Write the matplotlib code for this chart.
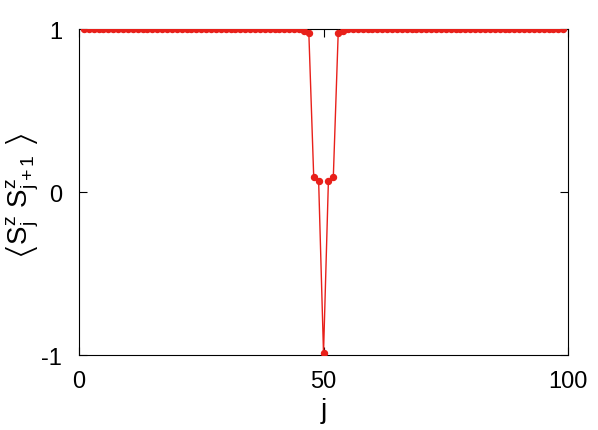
import numpy as np
import matplotlib.pyplot as plt

plt.rcParams['font.family'] = ['Liberation Sans', 'DejaVu Sans']
plt.rcParams['mathtext.fontset'] = 'custom'
plt.rcParams['mathtext.rm'] = 'Liberation Sans'
plt.rcParams['mathtext.it'] = 'Liberation Sans'
plt.rcParams['mathtext.fallback'] = 'stixsans'

# bond index and nearest-neighbour correlation
j = np.arange(1, 100)
corr = np.ones(len(j))
dip_j = [45, 46, 47, 48, 49, 50, 51, 52, 53, 54, 55]
dip_val = [0.998, 0.99, 0.975, 0.09, 0.07, -0.99, 0.07, 0.09, 0.975, 0.99, 0.998]
for jj, v in zip(dip_j, dip_val):
    corr[jj - 1] = v

fig = plt.figure(figsize=(5.98, 4.31), dpi=100)
ax = fig.add_axes([0.132, 0.174, 0.818, 0.756])

ax.plot(j, corr, '-o', color='#e8201a', lw=1, ms=4.3, zorder=3)

ax.set_xlim(0, 100)
ax.set_ylim(-1, 1)
ax.set_xticks([0, 50, 100])
ax.set_yticks([-1, 0, 1])
ax.set_yticklabels(['-1', '0', '1'])
ax.tick_params(direction='in', top=True, right=True, length=6, labelsize=17)
ax.tick_params(axis='x', pad=10.5)
ax.tick_params(axis='y', pad=12)
ax.set_xlabel('j', fontsize=20, labelpad=4)
ax.set_ylabel(r'$\left\langle \mathrm{S}^{\mathrm{z}}_{\mathrm{j}}\ \mathrm{S}^{\mathrm{z}}_{\mathrm{j+1}}\ \right\rangle$',
              fontsize=20)
ax.yaxis.set_label_coords(-0.078, 0.49)

fig.savefig('out.png', dpi=100)
